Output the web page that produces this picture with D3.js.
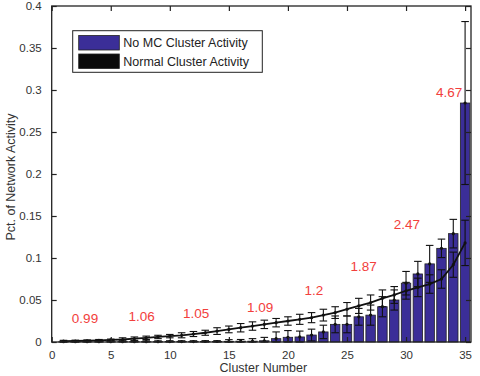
<!DOCTYPE html>
<meta charset="utf-8">
<script src="https://d3js.org/d3.v7.min.js"></script>
<style>
  body { margin: 0; background: #fff; }
  text { font-family: "Liberation Sans", Arial, sans-serif; }
</style>
<div id="chart"></div>
<script>

// cluster numbers 1..35
var clusters = [1,2,3,4,5,6,7,8,9,10,11,12,13,14,15,16,17,18,19,20,21,22,23,24,25,26,27,28,29,30,31,32,33,34,35];

// No MC cluster activity (bars) and its error
var noMC = [0.0003,0.0003,0.0003,0.0003,0.0003,0.0004,0.0004,0.0004,0.0004,0.0005,0.0005,0.0005,0.0006,0.0006,0.0008,0.001,0.001,0.0015,
            0.004,0.0056,0.006,0.0083,0.012,0.021,0.021,0.030,0.032,0.042,0.050,0.070,0.081,0.093,0.1115,0.129,0.2845];
var noMCErr = [0.001,0.001,0.001,0.001,0.001,0.001,0.001,0.001,0.001,0.001,0.001,0.001,0.001,0.001,0.002,0.002,0.003,0.004,
               0.008,0.008,0.007,0.007,0.008,0.010,0.010,0.010,0.012,0.012,0.012,0.014,0.015,0.022,0.011,0.017,0.097];

// Normal cluster activity (line) and its error
var normal = [0.001,0.0012,0.0015,0.002,0.0025,0.003,0.004,0.005,0.006,0.007,0.008,0.0095,0.011,0.013,0.015,0.017,0.019,0.021,
              0.023,0.025,0.027,0.029,0.032,0.035,0.039,0.043,0.047,0.052,0.056,0.061,0.065,0.069,0.075,0.092,0.118];
var normalErr = [0.001,0.001,0.001,0.001,0.001,0.002,0.002,0.002,0.002,0.002,0.003,0.003,0.003,0.004,0.004,0.005,0.005,0.005,
                 0.005,0.005,0.006,0.006,0.007,0.007,0.008,0.009,0.009,0.010,0.010,0.010,0.011,0.011,0.011,0.015,0.027];

// red ratio annotations (text, cluster position, value position)
var annotText = ["0.99","1.06","1.05","1.09","1.2","1.87","2.47","4.67"];
var annotX = [2.82, 7.62, 12.22, 17.64, 22.2, 26.4, 30.08, 33.64];
var annotY = [0.0286, 0.031, 0.0345, 0.0417, 0.0619, 0.0899, 0.1405, 0.2976];

var xTicks = [0,5,10,15,20,25,30,35];
var yTicks = [0,0.05,0.1,0.15,0.2,0.25,0.3,0.35,0.4];

var W = 480, H = 376;
var pLeft = 51.7, pRight = 471, pTop = 6, pBottom = 342;

var svg = d3.select("#chart").append("svg")
  .attr("width", W).attr("height", H);

var x = d3.scaleLinear().domain([0, 35.5]).range([pLeft, pRight]);
var y = d3.scaleLinear().domain([0, 0.4]).range([pBottom, pTop]);

var bw = x(0.8) - x(0);
var cap = x(0.32) - x(0);

// bars
svg.selectAll("rect.bar").data(clusters).enter().append("rect")
  .attr("class", "bar")
  .attr("x", function(d) { return x(d) - bw / 2; })
  .attr("y", function(d, i) { return y(noMC[i]); })
  .attr("width", bw)
  .attr("height", function(d, i) { return y(0) - y(noMC[i]); })
  .attr("fill", "#3b2e98")
  .attr("stroke", "#222")
  .attr("stroke-width", 0.8);

function errorBars(vals, errs, cls) {
  var g = svg.append("g").attr("class", cls)
    .attr("stroke", "#111").attr("stroke-width", 1.1).attr("fill", "none");
  clusters.forEach(function(c, i) {
    var lo = y(Math.max(0, vals[i] - errs[i])), hi = y(vals[i] + errs[i]), cx = x(c);
    g.append("line").attr("x1", cx).attr("x2", cx).attr("y1", lo).attr("y2", hi);
    g.append("line").attr("x1", cx - cap).attr("x2", cx + cap).attr("y1", lo).attr("y2", lo);
    g.append("line").attr("x1", cx - cap).attr("x2", cx + cap).attr("y1", hi).attr("y2", hi);
    svg.append("circle").attr("cx", cx).attr("cy", y(vals[i])).attr("r", 1.6).attr("fill", "#111");
  });
}
errorBars(noMC, noMCErr, "errMC");

// normal line
svg.append("path")
  .datum(clusters)
  .attr("fill", "none")
  .attr("stroke", "#111")
  .attr("stroke-width", 1.8)
  .attr("d", d3.line().x(function(d) { return x(d); }).y(function(d, i) { return y(normal[i]); }));
errorBars(normal, normalErr, "errNormal");

// frame
svg.append("rect").attr("x", pLeft).attr("y", pTop)
  .attr("width", pRight - pLeft).attr("height", pBottom - pTop)
  .attr("fill", "none").attr("stroke", "#222").attr("stroke-width", 1.3);

// axes
var xAxis = svg.append("g").attr("transform", "translate(0," + pBottom + ")")
  .call(d3.axisBottom(x).tickValues(xTicks).tickSizeInner(-5).tickSizeOuter(0).tickPadding(9));
var xTop = svg.append("g").attr("transform", "translate(0," + pTop + ")")
  .call(d3.axisTop(x).tickValues(xTicks).tickSizeInner(-5).tickSizeOuter(0).tickFormat(""));
var yAxis = svg.append("g").attr("transform", "translate(" + pLeft + ",0)")
  .call(d3.axisLeft(y).tickValues(yTicks).tickSizeInner(-5).tickSizeOuter(0).tickPadding(10)
    .tickFormat(function(d) { return d3.format("~g")(d); }));
var yRight = svg.append("g").attr("transform", "translate(" + pRight + ",0)")
  .call(d3.axisRight(y).tickValues(yTicks).tickSizeInner(-5).tickSizeOuter(0).tickFormat(""));

[xAxis, xTop, yAxis, yRight].forEach(function(a) {
  a.select(".domain").remove();
  a.selectAll(".tick line").attr("stroke", "#222").attr("stroke-width", 1.2);
  a.selectAll("text").attr("font-size", "11.5px").attr("fill", "#333")
    .attr("font-family", "Liberation Sans, Arial, sans-serif");
});

// axis titles
svg.append("text").attr("x", (pLeft + pRight) / 2 + 2).attr("y", 372)
  .attr("text-anchor", "middle").attr("font-size", "12.5px").attr("fill", "#333")
  .text("Cluster Number");
svg.append("text").attr("transform", "translate(15," + 177 + ") rotate(-90)")
  .attr("text-anchor", "middle").attr("font-size", "12.5px").attr("fill", "#333")
  .text("Pct. of Network Activity");

// annotations
svg.selectAll("text.annot").data(annotText).enter().append("text")
  .attr("class", "annot")
  .attr("x", function(d, i) { return x(annotX[i]); })
  .attr("y", function(d, i) { return y(annotY[i]); })
  .attr("dy", "0.35em")
  .attr("text-anchor", "middle")
  .attr("font-family", "Lato, 'Open Sans', sans-serif")
  .attr("font-size", "13.5px")
  .attr("fill", "#f2403c")
  .text(function(d) { return d; });

// legend
var lg = svg.append("g");
lg.append("rect").attr("x", 72.7).attr("y", 30.7).attr("width", 189.6).attr("height", 41.6)
  .attr("fill", "#fff").attr("stroke", "#222").attr("stroke-width", 1);
var legendItems = [["No MC Cluster Activity", "#3b2e98"], ["Normal Cluster Activity", "#0a0a0a"]];
legendItems.forEach(function(item, i) {
  lg.append("rect").attr("x", 78.7).attr("y", 35.5 + i * 18.5).attr("width", 40.6).attr("height", 14.5)
    .attr("fill", item[1]).attr("stroke", "#222").attr("stroke-width", 0.8);
  lg.append("text").attr("x", 123.3).attr("y", 43 + i * 18.8).attr("dy", "0.35em")
    .attr("font-size", "12.5px").attr("fill", "#222").text(item[0]);
});

</script>
